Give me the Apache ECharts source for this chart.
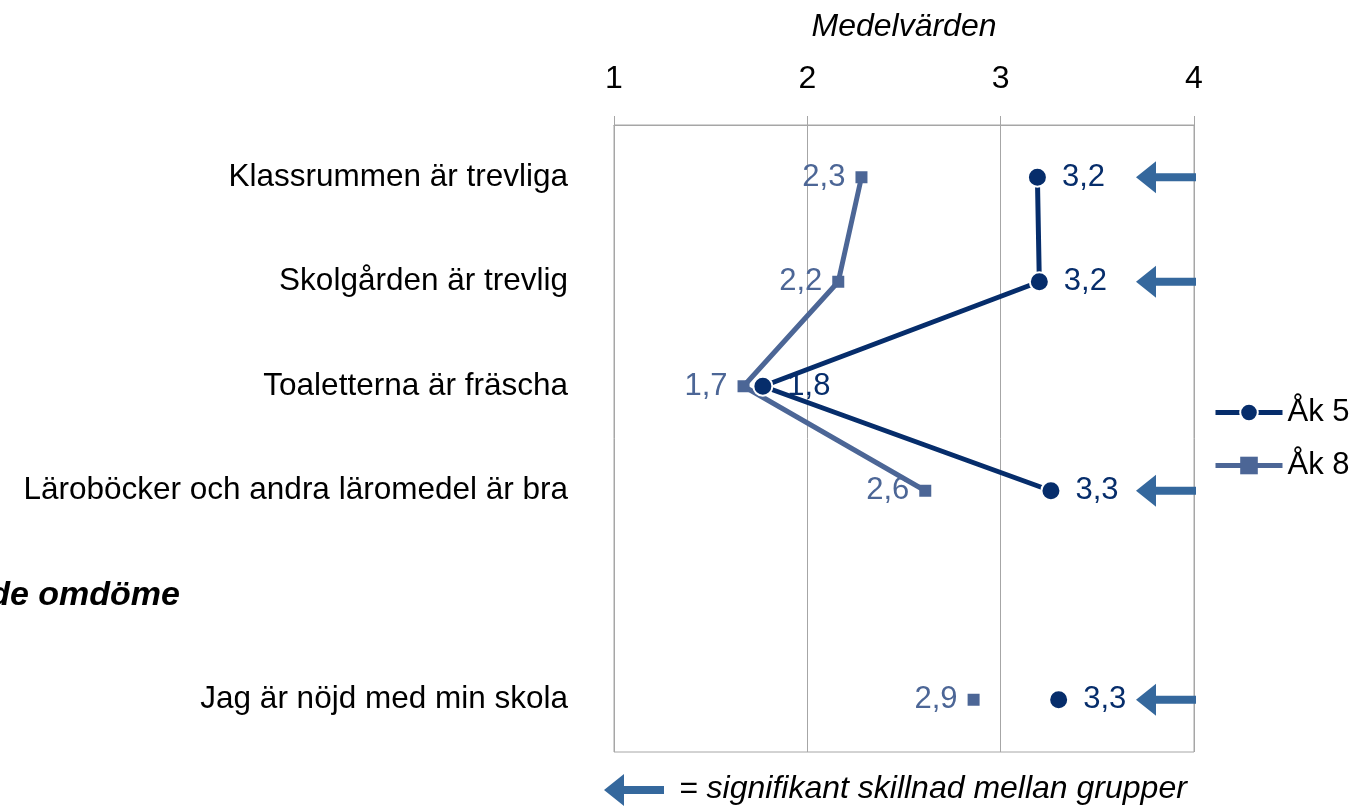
<!DOCTYPE html>
<html>
<head>
<meta charset="utf-8">
<script src="https://cdn.jsdelivr.net/npm/echarts@6/dist/echarts.min.js"></script>
<style>
  html, body { margin: 0; padding: 0; background: #fff; }
  #chart { width: 1355px; height: 809px; }
</style>
</head>
<body>
<div id="chart"></div>
<script>
// Statements rated by pupils, mean values on a 1–4 scale
const categories = [
  'Klassrummen är trevliga',
  'Skolgården är trevlig',
  'Toaletterna är fräscha',
  'Läroböcker och andra läromedel är bra',
  'Sammanfattande omdöme',
  'Jag är nöjd med min skola'
];
const ak5 = [3.19, 3.2, 1.77, 3.26, null, 3.3];
const ak8 = [2.28, 2.16, 1.67, 2.61, null, 2.86];
// Rows where the difference between the groups is significant
const significant = [true, true, false, true, false, true];
const xTicks = [1, 2, 3, 4];

const C5 = '#062d6b';
const C8 = '#4c6696';
const ARROW = '#35689d';
const GRID = '#a6a6a6';
const FONT = '"Liberation Sans", Arial, sans-serif';

const fmt = v => (v == null ? '' : v.toFixed(1).replace('.', ','));

const arrowData = significant
  .map((s, i) => (s ? [xTicks[xTicks.length - 1], i] : null))
  .filter(d => d);

// Left-pointing block arrow: tip on the left, tail at tailX
function arrowShape(tailX, y) {
  const len = 60, head = 20, halfHead = 16, halfBody = 4;
  const tip = tailX - len;
  return [
    [tip, y],
    [tip + head, y - halfHead],
    [tip + head, y - halfBody],
    [tailX, y - halfBody],
    [tailX, y + halfBody],
    [tip + head, y + halfBody],
    [tip + head, y + halfHead]
  ];
}

const chart = echarts.init(document.getElementById('chart'));
chart.setOption({
  animation: false,
  textStyle: { fontFamily: FONT },
  grid: {
    left: 614, right: 161, top: 125, bottom: 57,
    outerBoundsMode: 'none', containLabel: false,
    show: true, borderColor: GRID, borderWidth: 1
  },
  legend: {
    orient: 'vertical',
    left: 1213, top: 397, padding: 0,
    itemWidth: 67, itemHeight: 22, itemGap: 22,
    textStyle: { fontSize: 31, color: '#000', fontFamily: FONT, padding: [0, 0, 0, 0] },
    data: [
      { name: 'Åk 5', lineStyle: { width: 5 } },
      { name: 'Åk 8', lineStyle: { width: 5 } }
    ]
  },
  xAxis: {
    type: 'value', position: 'top',
    min: 1, max: 4, interval: 1,
    name: 'Medelvärden', nameLocation: 'middle', nameGap: 82,
    nameTextStyle: { fontSize: 32, fontStyle: 'italic', color: '#000', fontFamily: FONT },
    axisLine: { show: true, lineStyle: { color: GRID, width: 1 } },
    axisTick: { show: true, length: 9, lineStyle: { color: GRID } },
    axisLabel: { fontSize: 32, color: '#000', margin: 30, fontFamily: FONT },
    splitLine: { show: true, lineStyle: { color: GRID, width: 1 } }
  },
  yAxis: {
    type: 'category', inverse: true,
    data: categories,
    axisLine: { show: false }, axisTick: { show: false },
    axisLabel: {
      fontSize: 31.5, color: '#000', margin: 46, fontFamily: FONT,
      formatter: (v, i) => (i === 4 ? '{sum|' + v + '}' : v),
      rich: {
        sum: { fontSize: 34, fontWeight: 'bold', fontStyle: 'italic', color: '#000',
               fontFamily: FONT, padding: [0, 388, 0, 0] }
      }
    }
  },
  series: [
    {
      name: 'Åk 8', type: 'line', data: ak8,
      symbol: 'rect', symbolSize: 12,
      lineStyle: { color: C8, width: 5 },
      itemStyle: { color: C8 },
      label: {
        show: true, position: 'left', distance: 10,
        fontSize: 31, color: C8, fontFamily: FONT,
        formatter: p => fmt(p.value)
      },
      labelLayout: { hideOverlap: false },
      z: 2
    },
    {
      name: 'Åk 5', type: 'line', data: ak5,
      symbol: 'circle', symbolSize: 19,
      lineStyle: { color: C5, width: 5 },
      itemStyle: { color: C5, borderColor: '#fff', borderWidth: 2 },
      label: {
        show: true, position: 'right', distance: 14,
        fontSize: 31, color: C5, fontFamily: FONT,
        formatter: p => fmt(p.value)
      },
      labelLayout: { hideOverlap: false },
      z: 3
    },
    {
      name: 'signifikant', type: 'custom', data: arrowData,
      clip: false, silent: true,
      renderItem: (params, api) => {
        const p = api.coord([api.value(0), api.value(1)]);
        return {
          type: 'polygon',
          shape: { points: arrowShape(p[0] + 2, p[1]) },
          style: { fill: ARROW }
        };
      },
      z: 4
    }
  ],
  graphic: [
    {
      type: 'polygon',
      shape: { points: arrowShape(664, 790) },
      style: { fill: ARROW }
    },
    {
      type: 'text', left: 679, top: 773,
      style: {
        text: '= signifikant skillnad mellan grupper',
        font: 'italic 32px ' + FONT, fill: '#000'
      }
    }
  ]
});
</script>
</body>
</html>
